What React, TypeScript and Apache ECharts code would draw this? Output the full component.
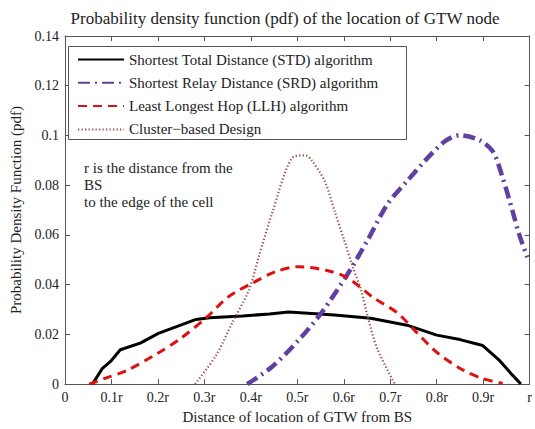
import React, { useEffect, useRef } from "react";
import * as echarts from "echarts";

const titleText = "Probability density function (pdf) of the location of GTW node";
const xAxisTitle = "Distance of location of GTW from BS";
const yAxisTitle = "Probability Density Function (pdf)";
const noteLines = ["r is the distance from the", "BS", "to the edge of the cell"];

const xTickLabels = ["0", "0.1r", "0.2r", "0.3r", "0.4r", "0.5r", "0.6r", "0.7r", "0.8r", "0.9r", "r"];

const seriesNames = [
  "Shortest Total Distance (STD) algorithm",
  "Shortest Relay Distance (SRD) algorithm",
  "Least Longest Hop (LLH) algorithm",
  "Cluster\u2212based Design",
];

const stdX = [0.059, 0.08, 0.098, 0.119, 0.162, 0.201, 0.24, 0.282, 0.311, 0.382, 0.44, 0.481, 0.523, 0.58, 0.658, 0.736, 0.8, 0.85, 0.899, 0.935, 0.963, 0.981];
const stdY = [0, 0.0062, 0.0091, 0.0138, 0.0165, 0.0204, 0.0231, 0.026, 0.0267, 0.0274, 0.0282, 0.029, 0.0285, 0.0278, 0.0265, 0.0237, 0.0197, 0.0179, 0.0155, 0.0095, 0.0036, 0];

const srdX = [0.392, 0.445, 0.502, 0.552, 0.609, 0.651, 0.694, 0.736, 0.786, 0.821, 0.85, 0.892, 0.921, 0.942, 0.963, 0.977, 0.995];
const srdY = [0, 0.0069, 0.0175, 0.0287, 0.0445, 0.0578, 0.0724, 0.0816, 0.0921, 0.0981, 0.1001, 0.0981, 0.0935, 0.0829, 0.0697, 0.0604, 0.051];

const llhX = [0.052, 0.084, 0.133, 0.197, 0.247, 0.304, 0.353, 0.403, 0.453, 0.502, 0.566, 0.609, 0.665, 0.715, 0.75, 0.8, 0.857, 0.899, 0.942];
const llhY = [0, 0.0022, 0.0055, 0.0121, 0.0181, 0.0267, 0.0353, 0.0406, 0.0452, 0.0472, 0.0456, 0.0426, 0.0346, 0.0287, 0.0221, 0.0128, 0.0056, 0.0022, 0.0003];

const clusterX = [0.28, 0.325, 0.36, 0.396, 0.417, 0.445, 0.488, 0.517, 0.53, 0.559, 0.58, 0.601, 0.619, 0.637, 0.651, 0.672, 0.71];
const clusterY = [0, 0.0115, 0.0247, 0.0379, 0.0512, 0.0683, 0.0908, 0.092, 0.0902, 0.0816, 0.0697, 0.0578, 0.0472, 0.0379, 0.0274, 0.0142, 0];

const FONT = "Liberation Serif";

function pairs(xs: number[], ys: number[]) {
  return xs.map((x, i) => [x, ys[i]]);
}

const axisLine = () => ({ show: true, onZero: false, lineStyle: { color: "#555", width: 1 } });
const tick = () => ({ show: true, inside: true, length: 5, lineStyle: { color: "#555", width: 1 } });

export default function App() {
  const ref = useRef<HTMLDivElement>(null);
  useEffect(() => {
    if (!ref.current) return;
    const chart = echarts.init(ref.current, null, { renderer: "svg" });
    chart.setOption({
      animation: false,
      backgroundColor: "#fff",
      grid: { left: 64, top: 36, right: 2, bottom: 40, containLabel: false },
      graphic: [
        {
          type: "text",
          x: 285,
          y: 10,
          style: { text: titleText, textAlign: "center", fill: "#222", font: `17px '${FONT}'` },
        },
        {
          type: "rect",
          shape: { x: 68.5, y: 46.5, width: 338, height: 93 },
          style: { fill: "#fff", stroke: "#555", lineWidth: 1 },
          z: 5,
        },
        {
          type: "text",
          x: 84,
          y: 159,
          style: { text: noteLines.join("\n"), fill: "#222", font: `15px '${FONT}'`, lineHeight: 17 },
          z: 5,
        },
      ],
      legend: {
        orient: "vertical",
        left: 77,
        top: 52,
        itemWidth: 46,
        itemHeight: 14,
        itemGap: 8.3,
        padding: 0,
        z: 10,
        itemStyle: { opacity: 0 },
        textStyle: { fontFamily: FONT, fontSize: 15, color: "#222" },
        data: seriesNames,
      },
      xAxis: [
        {
          type: "value",
          min: 0,
          max: 1,
          interval: 0.1,
          name: xAxisTitle,
          nameLocation: "middle",
          nameGap: 22,
          nameTextStyle: { fontFamily: FONT, fontSize: 15, color: "#222" },
          axisLine: axisLine(),
          axisTick: tick(),
          splitLine: { show: false },
          axisLabel: {
            fontFamily: FONT,
            fontSize: 14,
            color: "#222",
            margin: 6,
            showMaxLabel: true,
            formatter: (v: number) => xTickLabels[Math.round(v * 10)] ?? "",
          },
        },
        {
          type: "value",
          position: "top",
          min: 0,
          max: 1,
          interval: 0.1,
          axisLine: axisLine(),
          axisTick: tick(),
          splitLine: { show: false },
          axisLabel: { show: false },
        },
      ],
      yAxis: [
        {
          type: "value",
          min: 0,
          max: 0.14,
          interval: 0.02,
          name: yAxisTitle,
          nameLocation: "middle",
          nameGap: 42,
          nameTextStyle: { fontFamily: FONT, fontSize: 15, color: "#222" },
          axisLine: axisLine(),
          axisTick: tick(),
          splitLine: { show: false },
          axisLabel: { fontFamily: FONT, fontSize: 14, color: "#222", margin: 6 },
        },
        {
          type: "value",
          position: "right",
          min: 0,
          max: 0.14,
          interval: 0.02,
          axisLine: axisLine(),
          axisTick: tick(),
          splitLine: { show: false },
          axisLabel: { show: false },
        },
      ],
      series: [
        {
          name: seriesNames[0],
          type: "line",
          symbol: "none",
          data: pairs(stdX, stdY),
          lineStyle: { color: "#000", width: 3 },
          itemStyle: { color: "#000" },
        },
        {
          name: seriesNames[1],
          type: "line",
          symbol: "none",
          smooth: 0.3,
          data: pairs(srdX, srdY),
          lineStyle: { color: "#6040a0", width: 4.5, type: [12, 5, 2, 5] },
          itemStyle: { color: "#6040a0" },
        },
        {
          name: seriesNames[2],
          type: "line",
          symbol: "none",
          smooth: 0.3,
          data: pairs(llhX, llhY),
          lineStyle: { color: "#dd1111", width: 3, type: [9, 6] },
          itemStyle: { color: "#dd1111" },
        },
        {
          name: seriesNames[3],
          type: "line",
          symbol: "none",
          smooth: 0.3,
          data: pairs(clusterX, clusterY),
          lineStyle: { color: "#9a5550", width: 2.2, type: [1.3, 2.2] },
          itemStyle: { color: "#9a5550" },
        },
      ],
    });
    return () => chart.dispose();
  }, []);
  return (
    <div
      ref={ref}
      style={{ position: "fixed", left: 0, top: 0, width: 535, height: 429, background: "#fff" }}
    />
  );
}
